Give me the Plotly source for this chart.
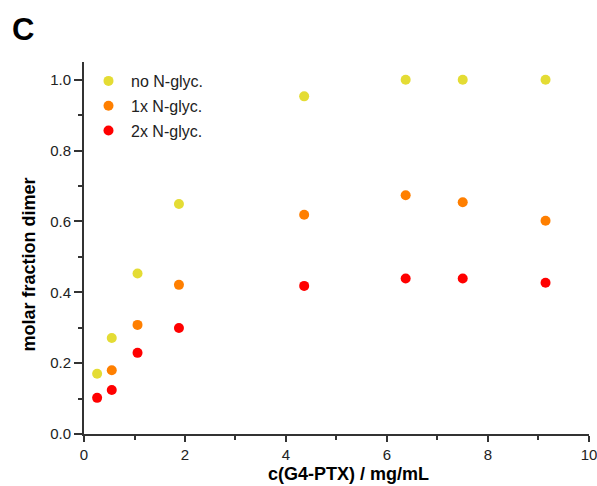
import plotly.graph_objects as go

conc = [0.26, 0.55, 1.06, 1.88, 4.36, 6.37, 7.50, 9.14]
conc_1x = [0.55, 1.06, 1.88, 4.36, 6.37, 7.50, 9.14]
no_glyc = [0.170, 0.271, 0.453, 0.649, 0.953, 1.000, 1.000, 1.000]
one_glyc = [0.180, 0.308, 0.421, 0.619, 0.674, 0.654, 0.602]
two_glyc = [0.102, 0.124, 0.229, 0.299, 0.418, 0.439, 0.439, 0.427]

names = ["no N-glyc.", "1x N-glyc.", "2x N-glyc."]
colors = ["#E4DC34", "#FF7F00", "#FF0000"]

FONT = "Arial, Liberation Sans, sans-serif"

W, H = 597, 486
L, R, T, B = 84, 8, 62, 52
pw, ph = W - L - R, H - T - B
def px(xp): return (xp - L) / pw
def py(yp): return (H - B - yp) / ph

fig = go.Figure()
for xs, ys, nm, col, g in [(conc, no_glyc, names[0], colors[0], "a"),
                           (conc_1x, one_glyc, names[1], colors[1], "b"),
                           (conc, two_glyc, names[2], colors[2], "c")]:
    fig.add_trace(go.Scatter(x=xs, y=ys, mode="markers", name=nm, legendgroup=g,
                             marker=dict(color=col, size=10, line=dict(width=0))))

axis_common = dict(showline=True, linewidth=2, linecolor="#333333", showgrid=False,
                   zeroline=False, ticks="outside", tickwidth=2, tickcolor="#333333",
                   tickfont=dict(family=FONT, size=15, color="#222222"), mirror=False,
                   automargin=False, ticklabeloverflow="allow")

fig.update_xaxes(range=[0, 10.0005], dtick=2, tick0=0, ticklen=6,
                 minor=dict(dtick=1, ticklen=4, ticks="outside", tickwidth=2, tickcolor="#333333"),
                 **axis_common)
fig.update_yaxes(range=[0, 1.05], dtick=0.2, tick0=0, ticklen=8, tickformat=".1f",
                 minor=dict(dtick=0.1, ticklen=4, ticks="outside", tickwidth=2, tickcolor="#333333"),
                 **axis_common)

fig.update_layout(
    width=W, height=H,
    margin=dict(l=L, r=R, t=T, b=B, autoexpand=False),
    paper_bgcolor="white", plot_bgcolor="white",
    font=dict(family=FONT, color="#222222"),
    showlegend=True,
    legend=dict(x=px(86), y=py(64), xanchor="left", yanchor="top",
                font=dict(family=FONT, size=16, color="#222222"), itemwidth=35,
                bgcolor="rgba(0,0,0,0)", traceorder="grouped", tracegroupgap=1),
    annotations=[
        dict(text="<b>C</b>", x=px(23), y=py(29), xref="paper", yref="paper", showarrow=False,
             xanchor="center", yanchor="middle",
             font=dict(family=FONT, size=31, color="black")),
        dict(text="<b>molar fraction dimer</b>", textangle=-90, showarrow=False,
             x=px(28), y=py(264.5), xref="paper", yref="paper",
             xanchor="center", yanchor="middle",
             font=dict(family=FONT, size=18, color="black")),
        dict(text="<b>c(G4-PTX) / mg/mL</b>", showarrow=False,
             x=px(348), y=py(474), xref="paper", yref="paper",
             xanchor="center", yanchor="middle",
             font=dict(family=FONT, size=18, color="black")),
    ],
)

fig.write_html("out.html", config={"displayModeBar": False},
               post_script="document.body.style.margin='0px';")
